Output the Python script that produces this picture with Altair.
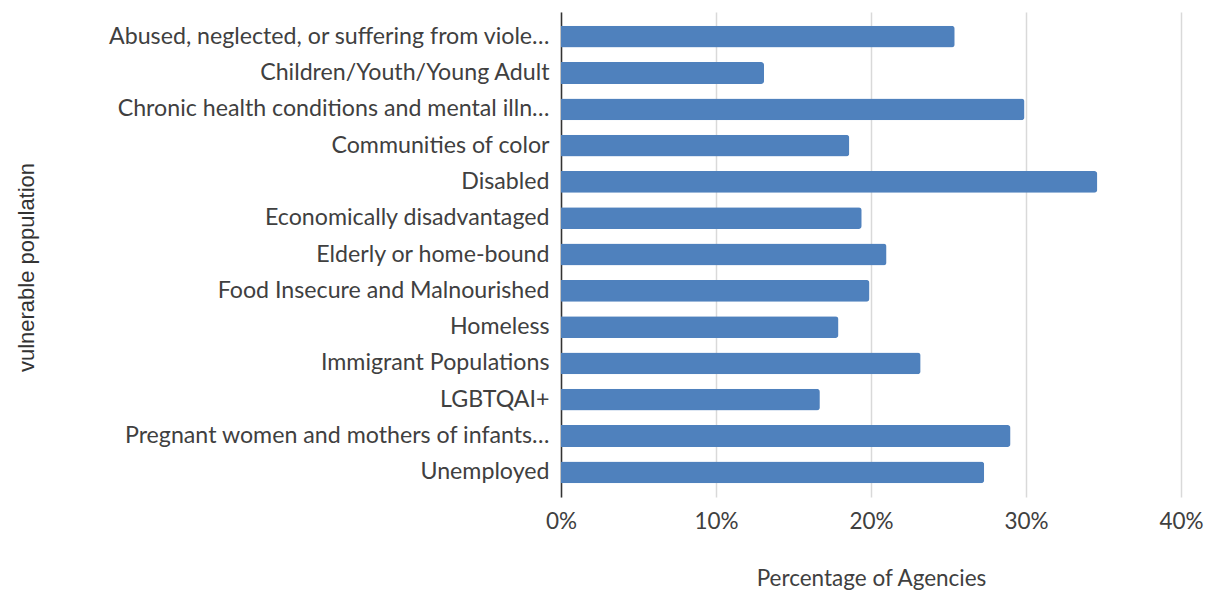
import altair as alt
import pandas as pd

categories = [
    "Abused, neglected, or suffering from viole…",
    "Children/Youth/Young Adult",
    "Chronic health conditions and mental illn…",
    "Communities of color",
    "Disabled",
    "Economically disadvantaged",
    "Elderly or home-bound",
    "Food Insecure and Malnourished",
    "Homeless",
    "Immigrant Populations",
    "LGBTQAI+",
    "Pregnant women and mothers of infants…",
    "Unemployed",
]
values = [0.254, 0.131, 0.299, 0.186, 0.346, 0.194, 0.210, 0.199, 0.179, 0.232, 0.167, 0.290, 0.273]
x_ticks = [0, 0.1, 0.2, 0.3, 0.4]

df = pd.DataFrame({"population": categories, "pct": values})

FONT = "Lato"
FS = 23.2

chart = alt.Chart(df).mark_bar(color="#4F81BD", cornerRadiusEnd=3).encode(
    x=alt.X(
        "pct:Q",
        scale=alt.Scale(domain=[0, 0.4], nice=False),
        axis=alt.Axis(
            values=x_ticks,
            format=".0%",
            title="Percentage of Agencies",
            domain=False,
            ticks=False,
            grid=True,
            gridColor="#D9D9D9",
            gridWidth=1.5,
            labelFont=FONT,
            labelFontSize=22.5,
            labelColor="#404040",
            labelPadding=13,
            labelFlush=False,
            titleFont=FONT,
            titleFontSize=22.5,
            titleFontWeight="normal",
            titleColor="#404040",
            titlePadding=35,
        ),
    ),
    y=alt.Y(
        "population:N",
        sort=categories,
        scale=alt.Scale(paddingInner=0.4, paddingOuter=0.38),
        axis=alt.Axis(
            title="vulnerable population",
            domain=True,
            domainColor="#333333",
            domainWidth=1.5,
            ticks=False,
            grid=False,
            labelFont=FONT,
            labelFontSize=FS,
            labelColor="#404040",
            labelPadding=12,
            labelLimit=600,
            titleFont="Liberation Sans",
            titleFontSize=22,
            titleFontWeight="normal",
            titleColor="#333333",
            titleAngle=270,
            titleX=-535,
            titleY=255,
            titleAlign="center",
            titleBaseline="middle",
        ),
    ),
).properties(
    width=620,
    height=485,
    padding={"left": 561, "top": 12, "right": 26, "bottom": 101},
    autosize="none",
).configure_view(stroke=None)

chart.save("out.html", embed_options={"renderer": "svg", "actions": False})
